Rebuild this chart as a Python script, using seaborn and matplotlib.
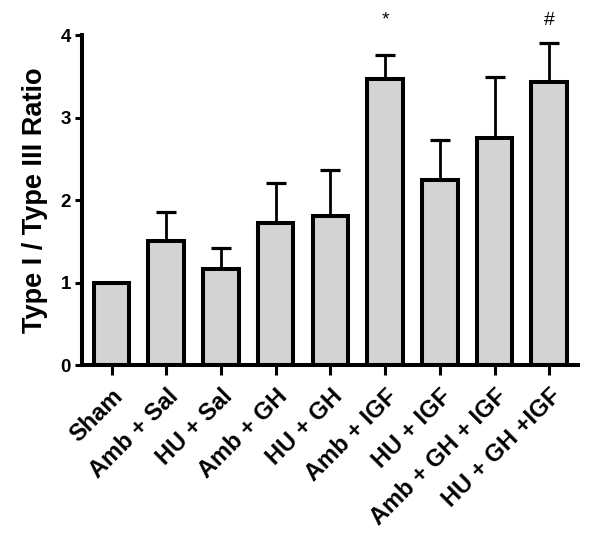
import numpy as np
import pandas as pd
import seaborn as sns
from matplotlib import pyplot as plt

groups = ['Sham', 'Amb + Sal', 'HU + Sal', 'Amb + GH', 'HU + GH',
          'Amb + IGF', 'HU + IGF', 'Amb + GH + IGF', 'HU + GH +IGF']
ratio = [1.00, 1.50, 1.17, 1.72, 1.81, 3.47, 2.24, 2.75, 3.43]
err_top = [1.00, 1.86, 1.42, 2.21, 2.37, 3.76, 2.73, 3.49, 3.90]
marks = {'Amb + IGF': '*', 'HU + GH +IGF': '#'}

sns.set_style('ticks')
plt.rcParams['font.family'] = ['Liberation Sans', 'DejaVu Sans']
plt.rcParams['text.color'] = 'black'
plt.rcParams['xtick.color'] = 'black'
plt.rcParams['ytick.color'] = 'black'
plt.rcParams['axes.labelcolor'] = 'black'
plt.rcParams['axes.edgecolor'] = 'black'

df = pd.DataFrame({'group': groups, 'ratio': ratio})

fig = plt.figure(figsize=(6, 5.41), dpi=100)
ax = fig.add_axes([0.1367, 0.325, 0.827, 0.610])

# nur obere Fehlerbalken, hinter den Balken
x = np.arange(len(groups))
up = np.array(err_top) - np.array(ratio)
ax.errorbar(x, ratio, yerr=[np.zeros_like(up), up], fmt='none', ecolor='black',
            elinewidth=2.0, capsize=7.2, capthick=2.3, zorder=1, clip_on=False)

sns.barplot(data=df, x='group', y='ratio', color='#d3d3d3', edgecolor='black',
            linewidth=2.9, width=0.65, saturation=1, ax=ax, zorder=2)

for g, m in marks.items():
    i = groups.index(g)
    ax.text(i, 4.18, m, ha='center', va='center', fontsize=14, clip_on=False)

ax.set_xlim(-0.54, 8.53)
ax.set_ylim(0, 4)
ax.set_yticks([0, 1, 2, 3, 4])
ax.set_xlabel('')
ax.set_ylabel('Type I / Type III Ratio', fontsize=19.5, fontweight='bold', labelpad=9)

for s in ['left', 'bottom']:
    ax.spines[s].set_linewidth(2.9)
sns.despine(ax=ax)

ax.tick_params(axis='y', length=5, width=2.2, labelsize=13.5, pad=3)
ax.tick_params(axis='x', length=7, width=2.2, labelsize=17, pad=7)
for lab in ax.get_yticklabels():
    lab.set_fontweight('bold')
plt.setp(ax.get_xticklabels(), rotation=45, ha='right', rotation_mode='anchor',
         fontweight='bold')

plt.savefig('out.png', dpi=100)
